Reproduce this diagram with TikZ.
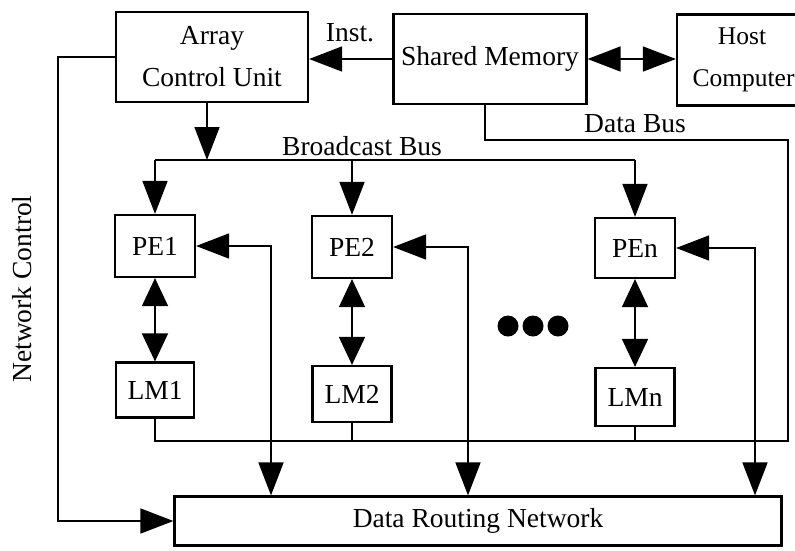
\documentclass[tikz,border=0pt]{standalone}
\usepackage{fontspec}
\setmainfont{Liberation Serif}
\usetikzlibrary{arrows.meta}
\tikzset{
  txt/.style={font=\fontsize{27.5}{42}\selectfont, inner sep=0pt},
  blk/.style={txt, draw, rectangle, line width=2.2pt, align=center},
  wire/.style={line width=1.6pt},
  arr/.style={wire, -{Triangle[length=33pt,width=25pt]}},
  darr/.style={wire, {Triangle[length=33pt,width=25pt]}-{Triangle[length=33pt,width=25pt]}},
  sdarr/.style={wire, {Triangle[length=28pt,width=26pt]}-{Triangle[length=28pt,width=26pt]}},
}
\begin{document}
\begin{tikzpicture}[x=1pt, y=-1pt]
  \useasboundingbox (0,0) rectangle (795,550);
  \fill[white] (0,0) rectangle (795,550);
  \clip (0,0) rectangle (795,550);

  % top row
  \node[blk, minimum width=192pt, minimum height=90pt] (ACU) at (212,57) {\raisebox{-3pt}{Array}\\\raisebox{-3pt}{Control Unit}};
  \node[blk, minimum width=193pt, minimum height=90pt] (SM) at (490,59) {Shared Memory};
  \node[blk, minimum width=130pt, minimum height=91pt, font=\fontsize{25.5}{42}\selectfont] (Host) at (742,60) {Host\\Computer\hspace*{-3pt}};

  % processing elements and local memories
  \node[blk, minimum width=80pt, minimum height=62pt] (PE1) at (155,246) {PE1};
  \node[blk, minimum width=80pt, minimum height=62pt] (PE2) at (352,247) {PE2};
  \node[blk, minimum width=80pt, minimum height=60pt] (PEn) at (635,248) {PEn};
  \node[blk, minimum width=78pt, minimum height=55pt] (LM1) at (155,390) {LM1};
  \node[blk, minimum width=79pt, minimum height=56pt] (LM2) at (352,394) {LM2};
  \node[blk, minimum width=79pt, minimum height=58pt] (LMn) at (635,397) {LMn};

  % routing network
  \node[blk, minimum width=607pt, minimum height=49pt] (DRN) at (478,521) {Data Routing Network};

  % labels
  \node[txt] (inst) at (350,33) {Inst.};
  \node[txt] (bbus) at (362,146) {Broadcast Bus};
  \node[txt] (dbus) at (635,124) {Data Bus};
  \node[txt, rotate=90] (nctl) at (22,289) {Network Control};

  % instruction path and host link
  \draw[arr] (SM.west) -- (SM.west -| ACU.east);
  \draw[darr] (SM.east) -- (SM.east -| Host.west);

  % broadcast bus
  \coordinate (bL) at (155,160);
  \coordinate (bR) at (635,160);
  \draw[wire] (bL) -- (bR);
  \draw[arr] ([xshift=-5pt]ACU.south) -- ([xshift=-5pt]ACU.south |- bL);
  \draw[arr] (bL) -- (PE1.north);
  \draw[arr] (PE2.north |- bL) -- (PE2.north);
  \draw[arr] (bR) -- (PEn.north);

  % PE <-> LM
  \draw[sdarr] (PE1.south) -- (LM1.north);
  \draw[sdarr] (PE2.south) -- (LM2.north);
  \draw[sdarr] (PEn.south) -- (LMn.north);

  % data bus from shared memory to local memories
  \coordinate (dA) at (788,140);
  \coordinate (dB) at (788,441);
  \draw[wire] ([xshift=-5pt]SM.south) |- (dA) -- (dB) -| (LM1.south);
  \draw[wire] (LM2.south) -- (LM2.south |- dB);
  \draw[wire] (LMn.south) -- (LMn.south |- dB);

  % PE <-> routing network
  \coordinate (r1) at (271,0);
  \coordinate (r2) at (468,0);
  \coordinate (rn) at (755,0);
  \draw[darr] (PE1.east) -| (r1 |- DRN.north);
  \draw[darr] (PE2.east) -| (r2 |- DRN.north);
  \draw[darr] (PEn.east) -| (rn |- DRN.north);

  % network control
  \coordinate (nc) at (58,0);
  \draw[arr] (ACU.west) -| (nc |- DRN.west) -- (DRN.west);

  % ellipsis
  \fill (508,326) circle (10.5);
  \fill (533,326) circle (10.5);
  \fill (558,326) circle (10.5);
\end{tikzpicture}
\end{document}
